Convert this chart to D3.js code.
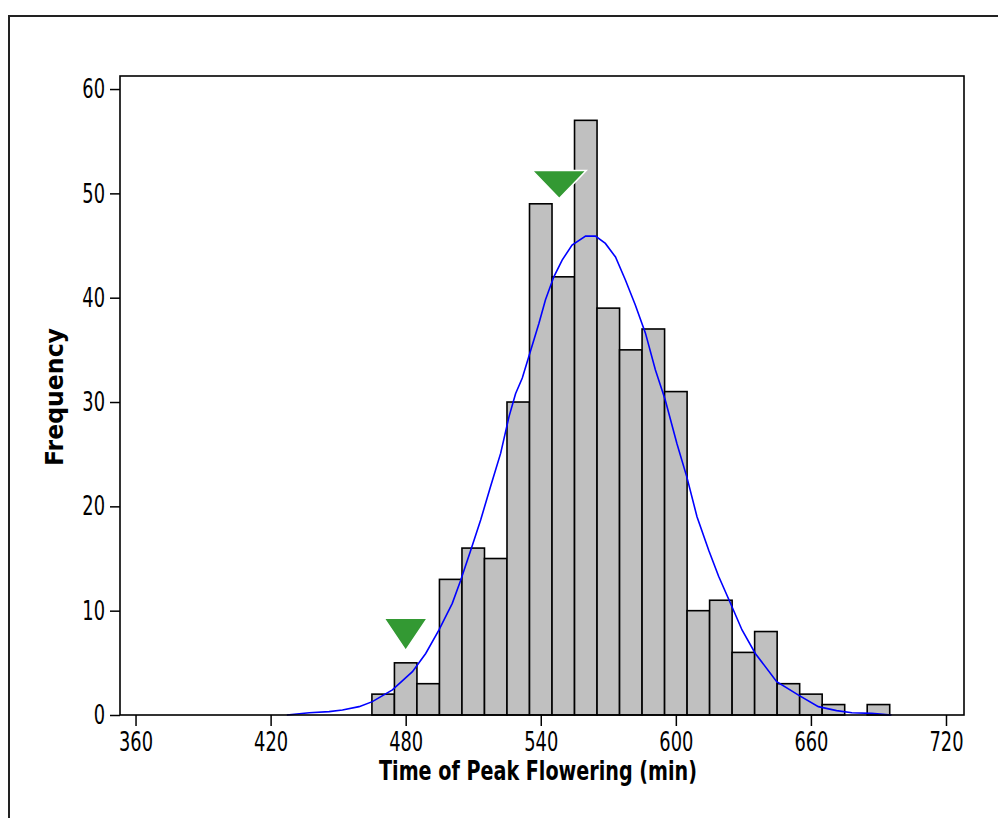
<!DOCTYPE html>
<html><head><meta charset="utf-8">
<script src="https://cdn.jsdelivr.net/npm/d3@7"></script>
<style>body{margin:0;background:#fff;overflow:hidden}</style>
</head><body><svg id="c" width="998" height="818"></svg>
<script>
// ---- data ----
const binCenters = [460,470,480,490,500,510,520,530,540,550,560,570,580,590,600,610,620,630,640,650,660,670,680,690];
const counts     = [0,2,5,3,13,16,15,30,49,42,57,39,35,37,31,10,11,6,8,3,2,1,0,1];
const binWidth = 10;
const xTicks = [360,420,480,540,600,660,720];
const yTicks = [0,10,20,30,40,50,60];
const fitX = [427.2,437.2,446,451.9,459.3,465.2,474.1,483,488.9,494.8,500.7,504.4,508.9,513.3,517.7,522.2,525.9,528.8,531.8,539.2,542.1,545.8,549.5,553.9,559.9,564.3,568.7,573.2,577.6,582.0,586.5,590.9,595.3,600.5,604.9,609.4,614.6,619.0,624.9,629.4,635.3,644.8,654.5,663.3,671.4,678.2,687,695.8];
const fitY = [0,0.22,0.32,0.48,0.8,1.28,2.4,4.15,5.9,8.15,10.7,12.9,15.8,18.7,21.9,25.1,28.6,30.8,32.3,37.55,39.8,42.0,43.6,45.05,45.9,45.9,45.2,43.9,41.7,39.3,36.6,33.1,30.2,26.0,22.8,19.0,15.8,13.3,10.4,8.15,5.9,3.2,1.9,0.8,0.42,0.22,0.16,0];
const markerX = [480, 548.2];
const markerY = [6.2, 49.5];
const xLabel = "Time of Peak Flowering (min)";
const yLabel = "Frequency";

// ---- drawing ----
const svg = d3.select("#c");
const FONT = "DejaVu Sans, Verdana, sans-serif";
const x = d3.scaleLinear().domain([353.1, 728]).range([120, 964]);
const y = d3.scaleLinear().domain([0, 61.25]).range([715, 76]);

function condense(sel, f){
  sel.each(function(){
    const L = this.getComputedTextLength();
    d3.select(this).attr("textLength", L*f).attr("lengthAdjust","spacingAndGlyphs");
  });
}

// outer border
svg.append("rect").attr("x",9).attr("y",16).attr("width",1010).attr("height",830)
  .attr("fill","none").attr("stroke","#222").attr("stroke-width",2);

// bars
svg.append("g").selectAll("rect").data(binCenters).join("rect")
  .attr("x", (d)=>x(d-binWidth/2))
  .attr("width", (d)=>x(d+binWidth/2)-x(d-binWidth/2))
  .attr("y", (d,i)=>y(counts[i]))
  .attr("height", (d,i)=>y(0)-y(counts[i]))
  .attr("fill","#c0c0c0").attr("stroke","#000").attr("stroke-width",1.6);

// fitted curve
const pts = fitX.map((v,i)=>[v, fitY[i]]);
svg.append("path").datum(pts)
  .attr("d", d3.line().x(d=>x(d[0])).y(d=>y(d[1])))
  .attr("fill","none").attr("stroke","#0000ff").attr("stroke-width",1.6);

// markers
const mSize = [[43,32],[54,28]];
svg.append("g").selectAll("path").data(markerX).join("path")
  .attr("d",(d,i)=>{
    const tx = x(d), ty = y(markerY[i]);
    const w = mSize[i][0], h = mSize[i][1];
    return `M${tx},${ty}L${tx-w/2},${ty-h}L${tx+w/2},${ty-h}Z`;
  })
  .attr("fill","#339933").attr("stroke","#fff").attr("stroke-width",1.5);

// frame
svg.append("rect").attr("x",120).attr("y",76).attr("width",844).attr("height",639)
  .attr("fill","none").attr("stroke","#000").attr("stroke-width",1.6);

// axes
const gy = svg.append("g").attr("transform","translate(120,0)")
  .call(d3.axisLeft(y).tickValues(yTicks).tickSize(10).tickPadding(5));
const gx = svg.append("g").attr("transform","translate(0,715)")
  .call(d3.axisBottom(x).tickValues(xTicks).tickSize(11).tickPadding(6));
[gx, gy].forEach(g=>{
  g.select(".domain").remove();
  g.selectAll(".tick line").attr("stroke","#000").attr("stroke-width",1.5);
  g.selectAll(".tick text").attr("font-family",FONT).attr("font-size",27).attr("fill","#000");
  condense(g.selectAll(".tick text"), 0.66);
});

// axis labels
svg.append("text").attr("x",538).attr("y",780).attr("text-anchor","middle")
  .attr("font-family",FONT).attr("font-weight","bold").attr("font-size",26)
  .attr("textLength",318).attr("lengthAdjust","spacingAndGlyphs")
  .text(xLabel);
svg.append("text").attr("transform","translate(63,397) rotate(-90)").attr("text-anchor","middle")
  .attr("font-family",FONT).attr("font-weight","bold").attr("font-size",24)
  .attr("textLength",138).attr("lengthAdjust","spacingAndGlyphs")
  .text(yLabel);
</script>
</body></html>
